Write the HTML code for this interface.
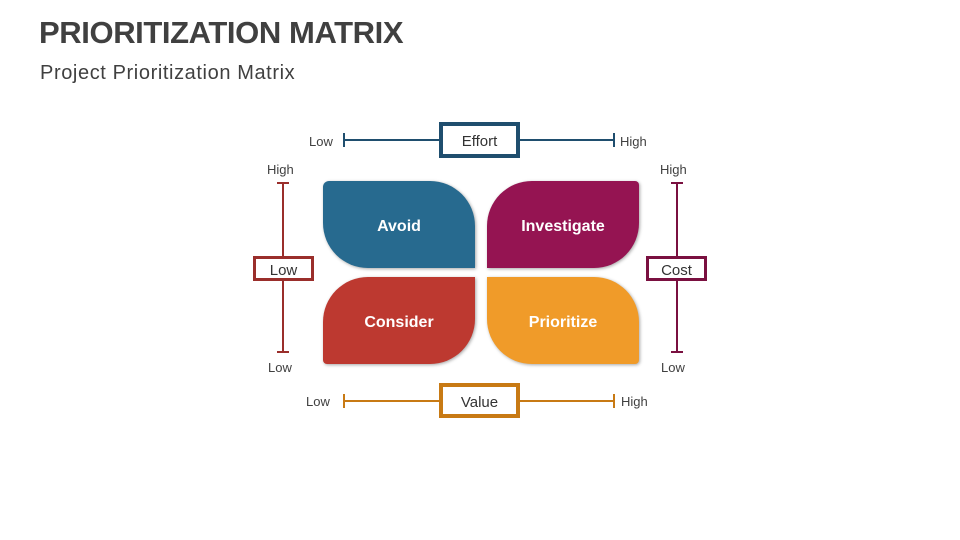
<!DOCTYPE html>
<html><head><style>
body{margin:0;width:960px;height:540px;background:#fff;position:relative;overflow:hidden;font-family:"Liberation Sans",sans-serif}
.a{position:absolute}
.t{font-size:13px;color:#404040}
.q{position:absolute;width:152px;height:87px;color:#fff;font-weight:bold;font-size:16px;display:flex;align-items:center;justify-content:center;box-shadow:1px 1px 3px rgba(0,0,0,.35);padding-top:4px;box-sizing:border-box}
.box{position:absolute;background:#fff;box-sizing:border-box;display:flex;align-items:center;justify-content:center;font-size:15px;color:#333;padding-top:3px}
</style></head><body>
<div class="a" style="left:39px;top:15px;font-size:31px;font-weight:bold;color:#404040;letter-spacing:-0.4px">PRIORITIZATION MATRIX</div>
<div class="a" style="left:40px;top:62px;font-size:20px;color:#404040;letter-spacing:0.6px">Project Prioritization Matrix</div>

<div class="q" style="left:323px;top:181px;background:#276a8f;border-radius:6px 45px 0 45px">Avoid</div>
<div class="q" style="left:487px;top:181px;background:#951452;border-radius:45px 4px 45px 0">Investigate</div>
<div class="q" style="left:323px;top:277px;background:#bd3930;border-radius:45px 0 45px 4px">Consider</div>
<div class="q" style="left:487px;top:277px;background:#f09b29;border-radius:0 45px 4px 45px">Prioritize</div>

<svg class="a" style="left:0;top:0" width="960" height="540">
<g stroke="#1f4e6e" stroke-width="2"><line x1="344" y1="140" x2="614" y2="140"/><line x1="344" y1="133" x2="344" y2="147"/><line x1="614" y1="133" x2="614" y2="147"/></g>
<g stroke="#c87a14" stroke-width="2"><line x1="344" y1="401" x2="614" y2="401"/><line x1="344" y1="394" x2="344" y2="408"/><line x1="614" y1="394" x2="614" y2="408"/></g>
<g stroke="#9a2e2b" stroke-width="2"><line x1="283" y1="183" x2="283" y2="352"/><line x1="277" y1="183" x2="289" y2="183"/><line x1="277" y1="352" x2="289" y2="352"/></g>
<g stroke="#7a1040" stroke-width="2"><line x1="677" y1="183" x2="677" y2="352"/><line x1="671" y1="183" x2="683" y2="183"/><line x1="671" y1="352" x2="683" y2="352"/></g>
</svg>
<div class="box" style="left:439px;top:122px;width:81px;height:36px;border:4px solid #1f4e6e">Effort</div>
<div class="box" style="left:439px;top:383px;width:81px;height:35px;border:4px solid #c87a14">Value</div>
<div class="box" style="left:253px;top:256px;width:61px;height:25px;border:3px solid #9a2e2b">Low</div>
<div class="box" style="left:646px;top:256px;width:61px;height:25px;border:3px solid #7a1040">Cost</div>

<div class="a t" style="left:309px;top:134px">Low</div>
<div class="a t" style="left:620px;top:134px">High</div>
<div class="a t" style="left:306px;top:394px">Low</div>
<div class="a t" style="left:621px;top:394px">High</div>
<div class="a t" style="left:267px;top:162px">High</div>
<div class="a t" style="left:268px;top:360px">Low</div>
<div class="a t" style="left:660px;top:162px">High</div>
<div class="a t" style="left:661px;top:360px">Low</div>
</body></html>
